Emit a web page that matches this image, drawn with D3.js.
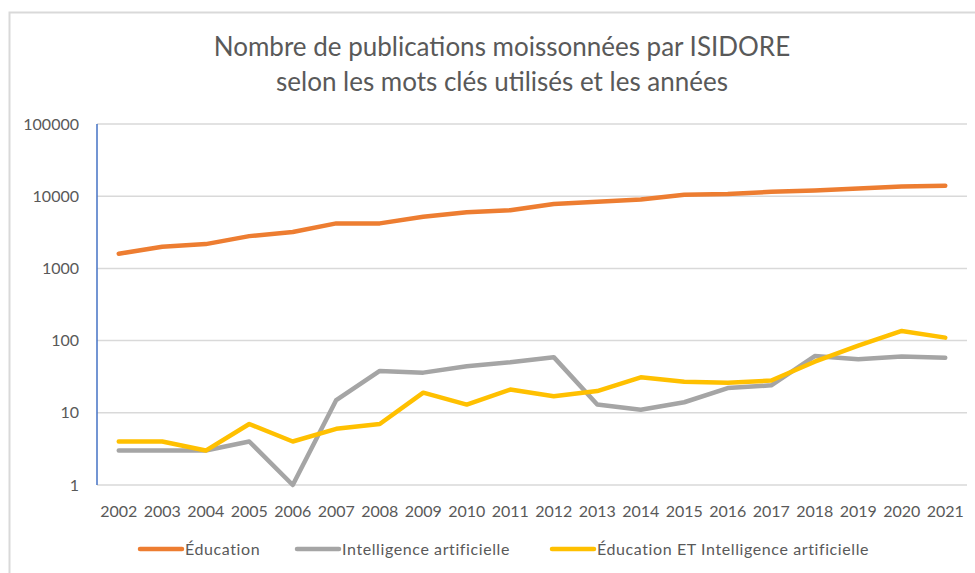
<!DOCTYPE html>
<html>
<head>
<meta charset="utf-8">
<script src="https://cdn.jsdelivr.net/npm/d3@7"></script>
<style>
  body { margin: 0; background: #fff; }
  text { font-family: Lato, "Open Sans", sans-serif; fill: #595959; }
</style>
</head>
<body>
<div id="chart"></div>
<script>
// Data
const years = ['2002', '2003', '2004', '2005', '2006', '2007', '2008', '2009', '2010', '2011',
               '2012', '2013', '2014', '2015', '2016', '2017', '2018', '2019', '2020', '2021'];
const education = [1600, 2000, 2170, 2800, 3200, 4200, 4200, 5200, 6000, 6400,
                   7800, 8400, 9000, 10500, 10700, 11500, 12000, 12800, 13600, 14000];
const intelligenceArtificielle = [3, 3, 3, 4, 1, 15, 38, 36, 44, 50,
                                  59, 13, 11, 14, 22, 24, 61, 55, 60, 58];
const educationEtIA = [4, 4, 3, 7, 4, 6, 7, 19, 13, 21,
                       17, 20, 31, 27, 26, 28, 51, 85, 136, 110];
const yTicks = [1, 10, 100, 1000, 10000, 100000];

const series = [
    { name: 'Éducation', values: education, color: '#ED7D31' },
    { name: 'Intelligence artificielle', values: intelligenceArtificielle, color: '#A5A5A5' },
    { name: 'Éducation ET Intelligence artificielle', values: educationEtIA, color: '#FFC000' }
];

const width = 975, height = 573;
const margin = { top: 124, right: 8, bottom: 88, left: 97 };

const svg = d3.select('#chart')
    .append('svg')
    .attr('width', width)
    .attr('height', height);

// chart frame (partially cropped in the original)
svg.append('path')
    .attr('d', `M9.5,${height} V12.5 H${width}`)
    .attr('fill', 'none')
    .attr('stroke', '#d9d9d9')
    .attr('stroke-width', 2);

// Title
const title = svg.append('text')
    .attr('text-anchor', 'middle')
    .style('font-size', '26px');
title.append('tspan').attr('x', 502).attr('y', 56).text('Nombre de publications moissonnées par ISIDORE');
title.append('tspan').attr('x', 502).attr('y', 91).text('selon les mots clés utilisés et les années');

const x = d3.scaleBand()
    .domain(years)
    .range([margin.left, width - margin.right]);

const y = d3.scaleLog()
    .domain([1, 100000])
    .range([height - margin.bottom, margin.top]);

// Gridlines
svg.append('g')
    .selectAll('line')
    .data(yTicks)
    .enter()
    .append('line')
    .attr('x1', margin.left)
    .attr('x2', width - margin.right)
    .attr('y1', d => y(d))
    .attr('y2', d => y(d))
    .attr('stroke', '#d9d9d9')
    .attr('stroke-width', 1.5);

// Y axis labels
svg.append('g')
    .selectAll('text')
    .data(yTicks)
    .enter()
    .append('text')
    .attr('x', 79)
    .attr('y', d => y(d))
    .attr('dy', '0.35em')
    .attr('text-anchor', 'end')
    .style('font-size', '16px')
    .text(d => d);

// Y axis line (blue)
svg.append('line')
    .attr('x1', margin.left)
    .attr('x2', margin.left)
    .attr('y1', y(100000))
    .attr('y2', y(1))
    .attr('stroke', '#4472C4')
    .attr('stroke-width', 1.5);

// X axis labels
svg.append('g')
    .selectAll('text')
    .data(years)
    .enter()
    .append('text')
    .attr('x', d => x(d) + x.bandwidth() / 2)
    .attr('y', 517)
    .attr('text-anchor', 'middle')
    .style('font-size', '16px')
    .text(d => d);

// Lines
const line = d3.line()
    .x((d, i) => x(years[i]) + x.bandwidth() / 2)
    .y(d => y(d));

series.forEach(s => {
    svg.append('path')
        .datum(s.values)
        .attr('fill', 'none')
        .attr('stroke', s.color)
        .attr('stroke-width', 4.5)
        .attr('stroke-linejoin', 'round')
        .attr('stroke-linecap', 'round')
        .attr('d', line);
});

// Legend
const legendX = [140, 297, 552];
const legend = svg.append('g')
    .selectAll('g')
    .data(series)
    .enter()
    .append('g')
    .attr('transform', (d, i) => `translate(${legendX[i]},549)`);

legend.append('line')
    .attr('x1', 0)
    .attr('x2', 42)
    .attr('stroke', d => d.color)
    .attr('stroke-width', 4.5)
    .attr('stroke-linecap', 'round');

legend.append('text')
    .attr('x', 45)
    .attr('dy', '0.35em')
    .style('font-size', '16px')
    .style('letter-spacing', '0.6px')
    .text(d => d.name);
</script>
</body>
</html>
